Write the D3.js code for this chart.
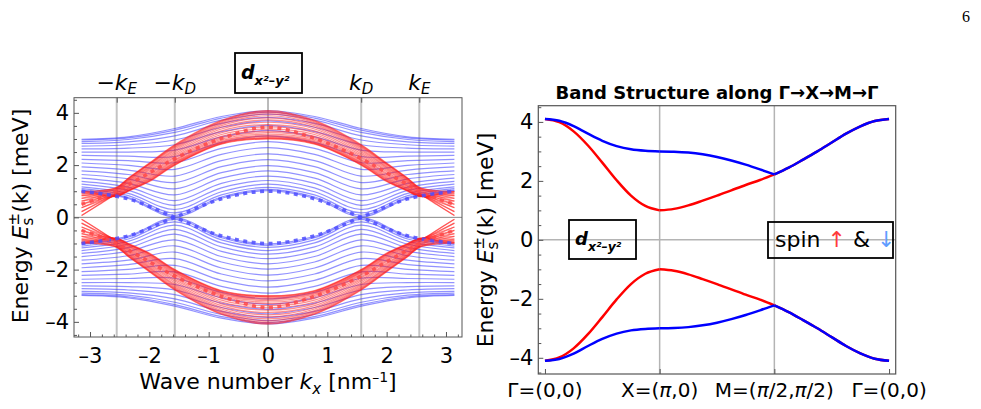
<!DOCTYPE html>
<html>
<head>
<meta charset="utf-8">
<script src="https://cdn.jsdelivr.net/npm/d3@7"></script>
<style>
body { margin: 0; background: #fff; }
text { font-family: "DejaVu Sans", sans-serif; }
</style>
</head>
<body>
<svg id="fig" width="981" height="409"></svg>
<script>
// ---- data, left panel (ribbon bands vs kx, kx >= 0 half, E >= 0 half) ----
var kxBlue = [0, 0.785, 1.571, 2.356, 3.142]
var blueBands = [
  [4.08, 3.86, 3.40, 3.08, 2.99], [4.03, 3.80, 3.34, 3.04, 2.96], [3.95, 3.72, 3.25, 2.98, 2.90],
  [3.83, 3.60, 3.12, 2.89, 2.83], [3.69, 3.45, 2.96, 2.78, 2.73], [3.52, 3.28, 2.78, 2.65, 2.62],
  [3.33, 3.08, 2.57, 2.50, 2.50], [3.12, 2.87, 2.33, 2.34, 2.37], [2.90, 2.64, 2.09, 2.17, 2.22],
  [2.67, 2.41, 1.84, 1.99, 2.08], [2.43, 2.17, 1.58, 1.81, 1.93], [2.21, 1.94, 1.33, 1.64, 1.78],
  [1.98, 1.71, 1.09, 1.47, 1.64], [1.78, 1.50, 0.86, 1.30, 1.50], [1.58, 1.30, 0.64, 1.16, 1.38],
  [1.41, 1.13, 0.46, 1.03, 1.27], [1.27, 0.98, 0.30, 0.92, 1.17], [1.15, 0.86, 0.17, 0.83, 1.10],
  [1.07, 0.78, 0.08, 0.76, 1.04], [1.02, 0.73, 0.02, 0.72, 1.01]
]
var blueEdge = [1.0, 0.71, 0.0, -0.71, -1.0]

var kxRed = [0, 0.785, 1.571, 2.0, 2.356, 2.55, 2.85, 3.142]
var redBands = [
  [4.09, 3.71, 2.78, 2.08, 1.50, 1.15, 1.02, 0.99], [4.06, 3.69, 2.76, 2.06, 1.49, 1.14, 1.00, 0.96],
  [4.02, 3.66, 2.73, 2.04, 1.47, 1.12, 0.97, 0.90], [3.96, 3.62, 2.70, 2.02, 1.45, 1.11, 0.93, 0.83],
  [3.89, 3.57, 2.66, 1.98, 1.42, 1.08, 0.88, 0.73], [3.81, 3.51, 2.61, 1.94, 1.39, 1.06, 0.81, 0.62],
  [3.73, 3.45, 2.56, 1.90, 1.35, 1.03, 0.74, 0.50], [3.64, 3.38, 2.50, 1.85, 1.32, 1.00, 0.66, 0.37],
  [3.55, 3.31, 2.44, 1.80, 1.28, 0.97, 0.58, 0.22], [3.46, 3.24, 2.38, 1.75, 1.24, 0.94, 0.49, 0.07],
  [3.38, 3.17, 2.32, 1.69, 1.20, 0.92, 0.48, 0.07], [3.30, 3.10, 2.27, 1.64, 1.17, 0.89, 0.55, 0.22],
  [3.24, 3.04, 2.21, 1.59, 1.13, 0.87, 0.61, 0.37], [3.18, 2.99, 2.17, 1.54, 1.10, 0.85, 0.68, 0.50],
  [3.13, 2.94, 2.12, 1.50, 1.08, 0.84, 0.73, 0.62], [3.09, 2.90, 2.09, 1.46, 1.05, 0.83, 0.78, 0.73],
  [3.05, 2.86, 2.06, 1.43, 1.03, 0.82, 0.82, 0.83], [3.03, 2.83, 2.03, 1.40, 1.02, 0.81, 0.86, 0.90],
  [3.01, 2.82, 2.01, 1.39, 1.01, 0.80, 0.88, 0.96], [3.00, 2.80, 2.00, 1.37, 1.00, 0.80, 0.90, 0.99]
]
var redEdge = [3.45, 3.02, 2.25, 1.7, 1.25, 1.0, 0.72, 0.5]

var kxTicks = [-3, -2, -1, 0, 1, 2, 3]
var kMarks = [-2.55, -1.571, 1.571, 2.55]
var kMarkSign = ['−', '−', '', '']
var kMarkSub = ['E', 'D', 'D', 'E']
var energyTicks = [-4, -2, 0, 2, 4]

// ---- data, right panel (path Γ→X→M→Γ, upper bands) ----
var pathT = [0, 0.125, 0.25, 0.375, 0.5, 0.625, 0.75, 0.875, 1,
  1.125, 1.25, 1.375, 1.5, 1.625, 1.75, 1.875, 2,
  2.125, 2.25, 2.375, 2.5, 2.625, 2.75, 2.875, 3]
var pathRed = [4.1, 3.99, 3.68, 3.2, 2.62, 2.02, 1.5, 1.15, 1.0,
  1.05, 1.17, 1.33, 1.5, 1.68, 1.86, 2.03, 2.22,
  2.45, 2.72, 3.0, 3.3, 3.6, 3.85, 4.03, 4.1]
var pathBlue = [4.1, 4.04, 3.86, 3.6, 3.36, 3.18, 3.07, 3.02, 3.0,
  2.99, 2.96, 2.9, 2.81, 2.69, 2.55, 2.39, 2.22,
  2.45, 2.72, 3.0, 3.3, 3.6, 3.85, 4.03, 4.1]
var pathTicks = [0, 1, 2, 3]
var pathLabels = [['Γ=(0,0)'], ['X=(', 'π', ',0)'], ['M=(', 'π', '/2,', 'π', '/2)'], ['Γ=(0,0)']]

var svg = d3.select('#fig')

function fmtE (d) { return d < 0 ? '–' + Math.abs(d) : String(d) }

function addAxis (g, axis, size) {
  g.call(axis)
  g.select('.domain').remove()
  g.attr('font-size', size).attr('color', '#555')
  g.selectAll('text').attr('fill', '#000')
  return g
}

function halfSteps (lo, hi, step, skip) {
  var out = []
  for (var i = Math.round(lo / step); i <= Math.round(hi / step); i++) {
    var v = +(i * step).toFixed(3)
    if (skip.indexOf(v) < 0) out.push(v)
  }
  return out
}

function energyLabel (x, y) {
  var t = svg.append('text').attr('transform', 'translate(' + x + ',' + y + ') rotate(-90)')
    .attr('text-anchor', 'middle').attr('font-size', 22)
  t.append('tspan').text('Energy ')
  t.append('tspan').attr('font-style', 'italic').text('E')
  t.append('tspan').attr('font-size', 15).attr('dy', -9).text('±')
  t.append('tspan').attr('font-size', 15).attr('dx', -12.6).attr('dy', 14).text('s')
  t.append('tspan').attr('dx', 4.8).attr('dy', -5).text('(k) [meV]')
}

function orbitalBox (x, y, w, h, big, small) {
  svg.append('rect').attr('x', x).attr('y', y).attr('width', w).attr('height', h)
    .attr('fill', 'none').attr('stroke', '#000').attr('stroke-width', 1.8)
  var t = svg.append('text').attr('x', x + 6).attr('y', y + h * 0.64)
    .attr('font-weight', 'bold').attr('font-style', 'italic')
  t.append('tspan').attr('font-size', big).text('d')
  t.append('tspan').attr('font-size', small).attr('dy', 6).text('x²–y²')
}

// ================= left panel =================
var xL = d3.scaleLinear().domain([-3.27, 3.27]).range([74, 462])
var yL = d3.scaleLinear().domain([-4.58, 4.58]).range([337, 97.7])

function mirrored (ks, vals, sign) {
  var pts = []
  for (var i = ks.length - 1; i > 0; i--) pts.push([-ks[i], sign * vals[i]])
  for (var j = 0; j < ks.length; j++) pts.push([ks[j], sign * vals[j]])
  return pts
}
var lineL = d3.line()
  .x(function (d) { return xL(d[0]) })
  .y(function (d) { return yL(d[1]) })
  .curve(d3.curveCatmullRom.alpha(0.5))

var left = svg.append('g')
left.selectAll('.kmark').data(kMarks).join('line')
  .attr('x1', function (d) { return xL(d) }).attr('x2', function (d) { return xL(d) })
  .attr('y1', yL.range()[0]).attr('y2', yL.range()[1])
  .attr('stroke', '#c4c4c4').attr('stroke-width', 2)
left.append('line').attr('x1', xL(0)).attr('x2', xL(0)).attr('y1', yL.range()[0]).attr('y2', yL.range()[1])
  .attr('stroke', '#777').attr('stroke-width', 1)
left.append('line').attr('x1', xL.range()[0]).attr('x2', xL.range()[1]).attr('y1', yL(0)).attr('y2', yL(0))
  .attr('stroke', '#888').attr('stroke-width', 1)

function drawFamily (ks, rows, color, opacity) {
  rows.forEach(function (row) {
    [1, -1].forEach(function (s) {
      left.append('path').attr('d', lineL(mirrored(ks, row, s)))
        .attr('fill', 'none').attr('stroke', color).attr('stroke-opacity', opacity).attr('stroke-width', 1.2)
    })
  })
}
drawFamily(kxBlue, blueBands, '#3838ff', 0.55)
drawFamily(kxRed, redBands, '#ff1c1c', 0.5)

;[1, -1].forEach(function (s) {
  left.append('path').attr('d', lineL(mirrored(kxBlue, blueEdge, s)))
    .attr('fill', 'none').attr('stroke', '#4d4dff').attr('stroke-opacity', 0.85)
    .attr('stroke-width', 3.5).attr('stroke-dasharray', '4,4.5')
  left.append('path').attr('d', lineL(mirrored(kxRed, redEdge, s)))
    .attr('fill', 'none').attr('stroke', '#ff4848').attr('stroke-opacity', 0.85)
    .attr('stroke-width', 3.5).attr('stroke-dasharray', '4,4.5')
})

svg.append('rect').attr('x', 74).attr('y', 97.7).attr('width', 388).attr('height', 239.3)
  .attr('fill', 'none').attr('stroke', '#555').attr('stroke-width', 1)

addAxis(svg.append('g').attr('transform', 'translate(0,337)'),
  d3.axisBottom(xL).tickValues(kxTicks).tickSizeInner(-5).tickSizeOuter(0).tickPadding(11).tickFormat(fmtE), 21)
addAxis(svg.append('g').attr('transform', 'translate(0,337)'),
  d3.axisBottom(xL).tickValues(halfSteps(-3.2, 3.2, 0.2, kxTicks)).tickSizeInner(-2.5).tickSizeOuter(0).tickFormat(''), 10)
addAxis(svg.append('g').attr('transform', 'translate(74,0)'),
  d3.axisLeft(yL).tickValues(energyTicks).tickSizeInner(-5).tickSizeOuter(0).tickPadding(5).tickFormat(fmtE), 21)
addAxis(svg.append('g').attr('transform', 'translate(74,0)'),
  d3.axisLeft(yL).tickValues(halfSteps(-4.5, 4.5, 0.5, energyTicks)).tickSizeInner(-3).tickSizeOuter(0).tickFormat(''), 10)
addAxis(svg.append('g').attr('transform', 'translate(0,97.7)'),
  d3.axisTop(xL).tickValues(kMarks).tickSizeInner(-5).tickSizeOuter(0).tickFormat(''), 10)

kMarks.forEach(function (k, i) {
  var t = svg.append('text').attr('x', xL(k)).attr('y', 90).attr('text-anchor', 'middle').attr('font-size', 22)
  t.append('tspan').text(kMarkSign[i])
  t.append('tspan').attr('font-style', 'italic').text('k')
  t.append('tspan').attr('font-style', 'italic').attr('font-size', 15).attr('dy', 4).text(kMarkSub[i])
})

var xt = svg.append('text').attr('x', 268).attr('y', 389).attr('text-anchor', 'middle').attr('font-size', 22)
xt.append('tspan').text('Wave number ')
xt.append('tspan').attr('font-style', 'italic').text('k')
xt.append('tspan').attr('font-style', 'italic').attr('font-size', 15).attr('dy', 5).text('x')
xt.append('tspan').attr('dy', -5).text(' [nm')
xt.append('tspan').attr('font-size', 14).attr('dy', -7).text('–1')
xt.append('tspan').attr('dy', 7).text(']')

energyLabel(28, 216)
orbitalBox(235, 53, 67, 40, 19, 13)

// ================= right panel =================
var xR = d3.scaleLinear().domain([-0.058, 3.058]).range([538.3, 895.7])
var yR = d3.scaleLinear().domain([-4.55, 4.55]).range([374, 105.7])

var right = svg.append('g')
;[1, 2].forEach(function (t) {
  right.append('line').attr('x1', xR(t)).attr('x2', xR(t)).attr('y1', yR.range()[0]).attr('y2', yR.range()[1])
    .attr('stroke', '#b4b4b4').attr('stroke-width', 1.5)
})
right.append('line').attr('x1', xR.range()[0]).attr('x2', xR.range()[1]).attr('y1', yR(0)).attr('y2', yR(0))
  .attr('stroke', '#b4b4b4').attr('stroke-width', 1.5)

var lineR = d3.line()
  .x(function (d) { return xR(d[0]) })
  .y(function (d) { return yR(d[1]) })
  .curve(d3.curveMonotoneX)

function drawPath (vals, color) {
  // each leg of the path separately so the corners at X and M stay sharp
  [[0, 8], [8, 16], [16, 24]].forEach(function (seg) {
    [1, -1].forEach(function (s) {
      var pts = []
      for (var i = seg[0]; i <= seg[1]; i++) pts.push([pathT[i], s * vals[i]])
      right.append('path').attr('d', lineR(pts)).attr('fill', 'none')
        .attr('stroke', color).attr('stroke-width', 2.5)
    })
  })
}
drawPath(pathRed, '#ff0000')
drawPath(pathBlue, '#0000ff')

svg.append('rect').attr('x', 538.3).attr('y', 105.7).attr('width', 357.4).attr('height', 268.3)
  .attr('fill', 'none').attr('stroke', '#555').attr('stroke-width', 1.2)

addAxis(svg.append('g').attr('transform', 'translate(538.3,0)'),
  d3.axisLeft(yR).tickValues(energyTicks).tickSizeInner(-5).tickSizeOuter(0).tickPadding(5).tickFormat(fmtE), 21)
addAxis(svg.append('g').attr('transform', 'translate(538.3,0)'),
  d3.axisLeft(yR).tickValues(halfSteps(-4.5, 4.5, 0.5, energyTicks)).tickSizeInner(-3).tickSizeOuter(0).tickFormat(''), 10)
addAxis(svg.append('g').attr('transform', 'translate(0,374)'),
  d3.axisBottom(xR).tickValues(pathTicks).tickSizeInner(-5).tickSizeOuter(0).tickFormat(''), 10)

pathTicks.forEach(function (t, i) {
  var txt = svg.append('text').attr('x', xR(t)).attr('y', 397).attr('text-anchor', 'middle').attr('font-size', 20)
  pathLabels[i].forEach(function (part) {
    var sp = txt.append('tspan').text(part)
    if (part == 'π') sp.attr('font-style', 'italic')
  })
})

svg.append('text').attr('x', 717).attr('y', 99).attr('text-anchor', 'middle')
  .attr('font-size', 18).attr('font-weight', 'bold').text('Band Structure along Γ→X→M→Γ')

energyLabel(493, 240)
orbitalBox(569, 220, 67, 39, 18, 12.5)

svg.append('rect').attr('x', 768).attr('y', 222).attr('width', 125).attr('height', 36)
  .attr('fill', 'none').attr('stroke', '#000').attr('stroke-width', 1.8)
var sp = svg.append('text').attr('x', 775).attr('y', 247).attr('font-size', 22)
sp.append('tspan').text('spin ')
sp.append('tspan').attr('fill', '#ff3b3b').text('↑')
sp.append('tspan').text(' & ')
sp.append('tspan').attr('fill', '#5f9dff').text('↓')

// page number
svg.append('text').attr('x', 962).attr('y', 22).attr('font-size', 16)
  .style('font-family', '"Liberation Serif", serif').text('6')
</script>
</body>
</html>
